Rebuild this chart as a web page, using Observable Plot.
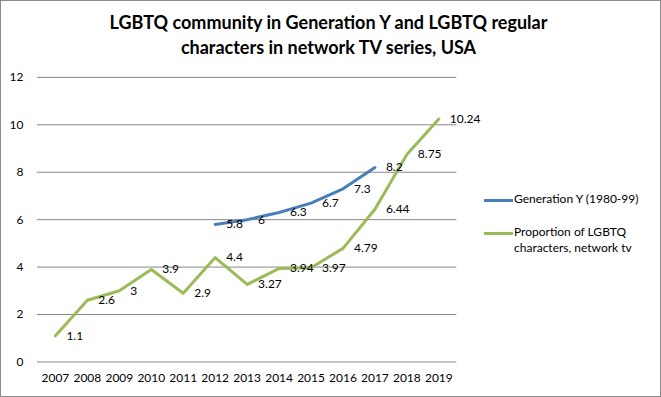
<!DOCTYPE html>
<html><head><meta charset="utf-8">
<script src="https://cdn.jsdelivr.net/npm/d3@7"></script>
<script src="https://cdn.jsdelivr.net/npm/@observablehq/plot@0.6"></script>
<style>
html,body{margin:0;padding:0;background:#fff;}
#wrap{position:relative;width:661px;height:397px;box-sizing:border-box;border:1px solid #8c8c8c;font-family:Lato,"Open Sans",sans-serif;overflow:hidden;}
#title{position:absolute;left:0;top:9px;width:655px;text-align:center;font-weight:bold;font-size:18px;line-height:25px;color:#000;}
#chart{position:absolute;left:-1px;top:-1px;}
.leg{position:absolute;left:483px;font-size:12px;color:#000;line-height:16px;}
.leg .sw{position:absolute;left:0;width:29px;height:3px;}
.leg .tx{position:absolute;left:30px;white-space:nowrap;}
</style></head>
<body>
<div id="wrap">
<div id="chart"></div>
<div id="title">LGBTQ community in Generation Y and LGBTQ regular<br>characters in network TV series, USA</div>
<div class="leg" style="top:190px"><div class="sw" style="top:8px;background:#4a7ebb"></div><div class="tx" id="l1"></div></div>
<div class="leg" style="top:231px"><div class="sw" style="top:-0px;background:#9bbb59;top:0px"></div><div class="tx" id="l2" style="top:-8px"></div></div>
</div>
<script>
const years = [2007,2008,2009,2010,2011,2012,2013,2014,2015,2016,2017,2018,2019];
const genYYears = [2012,2013,2014,2015,2016,2017];
const genYValues = [5.8,6,6.3,6.7,7.3,8.2];
const tvValues = [1.1,2.6,3,3.9,2.9,4.4,3.27,3.94,3.97,4.79,6.44,8.75,10.24];
const yTicks = [0,2,4,6,8,10,12];
const seriesNames = ["Generation Y (1980-99)", "Proportion of LGBTQ characters, network tv"];
const colors = ["#4a7ebb", "#9bbb59"];

document.getElementById("l1").textContent = seriesNames[0];
document.getElementById("l2").innerHTML = "Proportion of LGBTQ<br>characters, network tv";

const genY = genYYears.map((y,i)=>({year:y, value:genYValues[i]}));
const tv = years.map((y,i)=>({year:y, value:tvValues[i]}));

const chart = Plot.plot({
  width: 661, height: 397,
  marginLeft: 37, marginRight: 204, marginTop: 77, marginBottom: 35,
  style: {fontFamily: "Lato, 'Open Sans', sans-serif", fontSize: "12px", color: "#000", background: "transparent"},
  x: {type: "point", domain: years, padding: 0.5},
  y: {domain: [0,12]},
  marks: [
    Plot.gridY(yTicks, {stroke: "#868686", strokeOpacity: 1}),
    Plot.axisY(yTicks, {tickSize: 0, tickPadding: 14, line: true, stroke: "#868686", label: null, fontSize: 12}),
    Plot.axisX(years, {tickSize: 0, tickPadding: 12, label: null, fontSize: 12, tickFormat: d => String(d)}),
    Plot.line(genY, {x: "year", y: "value", stroke: colors[0], strokeWidth: 3}),
    Plot.line(tv, {x: "year", y: "value", stroke: colors[1], strokeWidth: 3}),
    Plot.text(genY, {x: "year", y: "value", text: d => String(d.value), dx: 11, textAnchor: "start", fill: "#000", fontSize: 12}),
    Plot.text(tv, {x: "year", y: "value", text: d => String(d.value), dx: 11, textAnchor: "start", fill: "#000", fontSize: 12})
  ]
});
document.getElementById("chart").appendChild(chart);
</script>
</body></html>
